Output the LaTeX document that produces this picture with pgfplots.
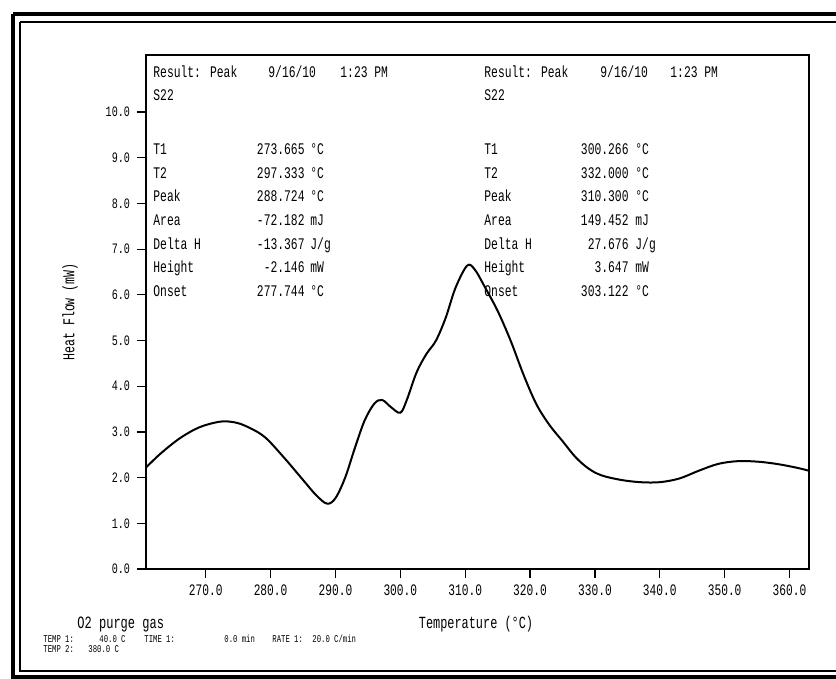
\documentclass[border=0pt]{standalone}
\usepackage{fontspec}
\newfontfamily\pf[FakeStretch=0.7]{Liberation Mono}
\usepackage{pgfplots}
\pgfplotsset{compat=1.18}

\begin{document}
\begin{tikzpicture}
\useasboundingbox (0,0) rectangle (418pt,339.5pt);
\begin{axis}[
  at={(73pt,55pt)}, anchor=south west,
  scale only axis, width=331.5pt, height=257pt,
  xmin=260.8, xmax=363, ymin=0, ymax=11.25,
  xtick={270,280,...,360}, ytick={0,1,...,10},
  tick pos=left, tick align=outside, major tick length=4.5pt,
  axis line style={line width=0.75pt},
  tick style={line width=0.6pt, black},
  xticklabel style={font=\pf\fontsize{8}{9}\selectfont},
  yticklabel style={font=\pf\fontsize{7.2}{8}\selectfont},
  /pgf/number format/.cd, fixed, fixed zerofill, precision=1, assume math mode=true,
]
  % DSC trace
  \addplot[black, line width=1pt, smooth, tension=0.55] coordinates {
    (260.8,2.22) (263,2.52) (266,2.86) (269,3.1) (272,3.22) (274,3.22)
    (276,3.14) (279,2.9) (282,2.45) (285,1.95) (287,1.62) (288.7,1.43)
    (290,1.55) (291.5,2.0) (293,2.65) (294.5,3.25) (296,3.62) (297.2,3.7)
    (298.5,3.55) (300,3.42) (301,3.7) (302.5,4.3) (304,4.7) (305.5,5.0)
    (307,5.5) (308.5,6.15) (310.3,6.64) (311.5,6.55) (313,6.18) (315,5.65)
    (317,5.0) (319,4.25) (321,3.6) (323,3.15) (325,2.8) (327,2.45)
    (329,2.2) (331,2.05) (334,1.95) (337,1.9) (340,1.9) (343,1.98)
    (346,2.15) (349,2.3) (352,2.36) (355,2.35) (358,2.3) (361,2.22) (363,2.15)
  };
\end{axis}

% everything below in reference pixel units (y down)
\begin{scope}[x=0.5pt, y=-0.5pt, shift={(0,339.5pt)}]
  % frame
  \draw[line width=2pt] (13,14) -- (870,14);
  \draw[line width=2pt] (13,14) -- (13,677) -- (870,677);
  \draw[line width=0.6pt] (20,22) -- (870,22);
  \draw[line width=0.6pt] (20,22) -- (20,671) -- (870,671);

  \begin{scope}[every node/.style={inner sep=0pt, font=\pf\fontsize{8.1}{9}\selectfont}]
    % left result block
    \node[anchor=base west] at (153,78) {Result: Peak};
    \node[anchor=base west] at (268,78) {9/16/10};
    \node[anchor=base west] at (340,78) {1:23 PM};
    \node[anchor=base west] at (153,101) {S22};
    \node[anchor=base west] at (153,155) {T1};
    \node[anchor=base west] at (153,179) {T2};
    \node[anchor=base west] at (153,202) {Peak};
    \node[anchor=base west] at (153,226) {Area};
    \node[anchor=base west] at (153,250) {Delta H};
    \node[anchor=base west] at (153,273) {Height};
    \node[anchor=base west] at (153,297) {Onset};
    \node[anchor=base east] at (305,155) {273.665};
    \node[anchor=base east] at (305,179) {297.333};
    \node[anchor=base east] at (305,202) {288.724};
    \node[anchor=base east] at (305,226) {-72.182};
    \node[anchor=base east] at (305,250) {-13.367};
    \node[anchor=base east] at (305,273) {-2.146};
    \node[anchor=base east] at (305,297) {277.744};
    \node[anchor=base west] at (310,155) {°C};
    \node[anchor=base west] at (310,179) {°C};
    \node[anchor=base west] at (310,202) {°C};
    \node[anchor=base west] at (310,226) {mJ};
    \node[anchor=base west] at (310,250) {J/g};
    \node[anchor=base west] at (310,273) {mW};
    \node[anchor=base west] at (310,297) {°C};
    % right result block
    \node[anchor=base west] at (484,78) {Result: Peak};
    \node[anchor=base west] at (600,78) {9/16/10};
    \node[anchor=base west] at (670,78) {1:23 PM};
    \node[anchor=base west] at (484,101) {S22};
    \node[anchor=base west] at (484,155) {T1};
    \node[anchor=base west] at (484,179) {T2};
    \node[anchor=base west] at (484,202) {Peak};
    \node[anchor=base west] at (484,226) {Area};
    \node[anchor=base west] at (484,250) {Delta H};
    \node[anchor=base west] at (484,273) {Height};
    \node[anchor=base west] at (484,297) {Onset};
    \node[anchor=base east] at (629,155) {300.266};
    \node[anchor=base east] at (629,179) {332.000};
    \node[anchor=base east] at (629,202) {310.300};
    \node[anchor=base east] at (629,226) {149.452};
    \node[anchor=base east] at (629,250) {27.676};
    \node[anchor=base east] at (629,273) {3.647};
    \node[anchor=base east] at (629,297) {303.122};
    \node[anchor=base west] at (635,155) {°C};
    \node[anchor=base west] at (635,179) {°C};
    \node[anchor=base west] at (635,202) {°C};
    \node[anchor=base west] at (635,226) {mJ};
    \node[anchor=base west] at (635,250) {J/g};
    \node[anchor=base west] at (635,273) {mW};
    \node[anchor=base west] at (635,297) {°C};
  \end{scope}

  % axis titles and footer
  \node[rotate=90, font=\pf\fontsize{8.3}{9}\selectfont] at (70,312) {Heat Flow (mW)};
  \node[anchor=base, inner sep=0pt, font=\pf\fontsize{8.5}{9}\selectfont] at (476,629) {Temperature (°C)};
  \node[anchor=base west, inner sep=0pt, font=\pf\fontsize{8.6}{9}\selectfont] at (77,629) {O2 purge gas};
  \begin{scope}[every node/.style={anchor=base west, inner sep=0pt, font=\pf\fontsize{5.2}{6}\selectfont}]
    \node at (43,643) {TEMP 1:};
    \node at (99,643) {40.0 C};
    \node at (144,643) {TIME 1:};
    \node at (224,643) {0.0 min};
    \node at (272,643) {RATE 1:};
    \node at (312,643) {20.0 C/min};
    \node at (43,653) {TEMP 2:};
    \node at (88,653) {380.0 C};
  \end{scope}
\end{scope}
\end{tikzpicture}
\end{document}
